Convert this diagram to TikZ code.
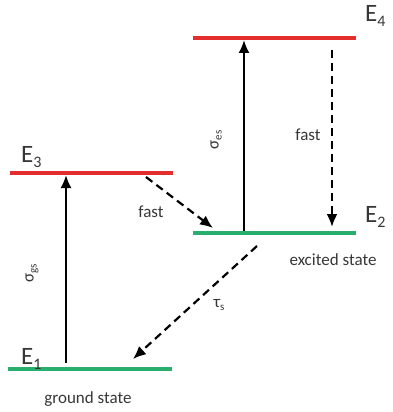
\documentclass[tikz,border=0pt]{standalone}
\usepackage{fontspec}
\setmainfont{Carlito}
\usetikzlibrary{arrows.meta}
\definecolor{lvred}{RGB}{228,45,45}
\definecolor{lvgreen}{RGB}{40,175,110}
\definecolor{txt}{RGB}{55,55,55}
\newcommand{\esub}[1]{\raisebox{-5pt}{\fontsize{16}{16}\selectfont #1}}
\newcommand{\tsub}[1]{\raisebox{-3pt}{\fontsize{11}{11}\selectfont #1}}
\begin{document}
\begin{tikzpicture}[x=1pt,y=-1pt,
  level/.style={line width=3.2pt},
  exc/.style={level,lvred},
  gnd/.style={level,lvgreen},
  pump/.style={line width=2pt,-{Latex[length=13pt,width=11pt]}},
  decay/.style={line width=2.2pt,dash pattern=on 8pt off 5pt,-{Latex[length=13pt,width=11pt]}},
  lbl/.style={text=txt,font=\fontsize{17}{19}\selectfont,inner sep=0pt},
  elbl/.style={text=txt,font=\fontsize{25}{27}\selectfont,inner sep=0pt}]
\useasboundingbox (0,0) rectangle (393,412);
% levels
\coordinate (e3l) at (10,173); \coordinate (e3r) at (173,173);
\coordinate (e1l) at (8,369); \coordinate (e1r) at (172,369);
\coordinate (e4l) at (193,38); \coordinate (e4r) at (356,38);
\coordinate (e2l) at (193,233); \coordinate (e2r) at (356,233);
\draw[exc] (e3l) -- (e3r);
\draw[gnd] (e1l) -- (e1r);
\draw[exc] (e4l) -- (e4r);
\draw[gnd] (e2l) -- (e2r);
% arrow end points
\coordinate (a1s) at (66,363); \coordinate (a1e) at (66,175);
\coordinate (a2s) at (244,231); \coordinate (a2e) at (244,40);
\coordinate (d1s) at (332,50); \coordinate (d1e) at (332,227);
\coordinate (d2s) at (146,177); \coordinate (d2e) at (213,228);
\coordinate (d3s) at (257,246); \coordinate (d3e) at (133,359);
\draw[pump] (a1s) -- (a1e);
\draw[pump] (a2s) -- (a2e);
\draw[decay] (d1s) -- (d1e);
\draw[decay] (d2s) -- (d2e);
\draw[decay] (d3s) -- (d3e);
% labels
\node[elbl,anchor=base west] (E3) at (21,162) {E\esub{3}};
\node[elbl,anchor=base west] (E1) at (21,364) {E\esub{1}};
\node[elbl,anchor=base west] (E4) at (365,22) {E\esub{4}};
\node[elbl,anchor=base west] (E2) at (365,222) {E\esub{2}};
\node[lbl] (f1) at (151,212) {fast};
\node[lbl] (f2) at (308,135) {fast};
\node[lbl,rotate=90] (sgs) at (32,273) {σ\tsub{gs}};
\node[lbl,rotate=90] (ses) at (216,140) {σ\tsub{es}};
\node[lbl] (ts) at (219,305) {τ\tsub{s}};
\node[lbl] (gs) at (88,399) {ground state};
\node[lbl] (es) at (333,260) {excited state};
\end{tikzpicture}
\end{document}
